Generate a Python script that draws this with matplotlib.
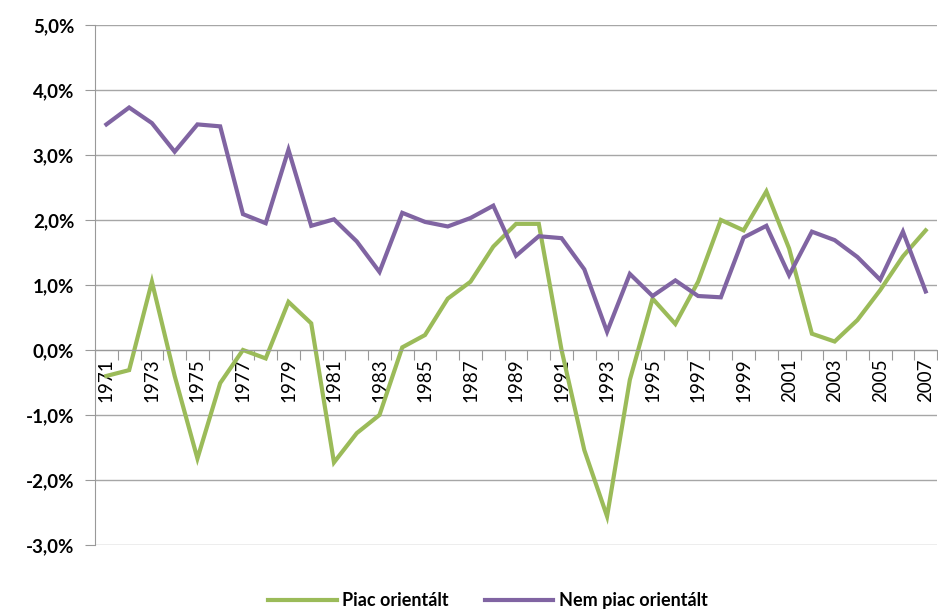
import matplotlib
matplotlib.use("Agg")
import matplotlib.pyplot as plt
from matplotlib.ticker import FuncFormatter

years = list(range(1971, 2008))
piac = [-0.40, -0.31, 1.05, -0.40, -1.67, -0.51, 0.00, -0.13, 0.74, 0.41,
        -1.73, -1.28, -1.00, 0.04, 0.23, 0.79, 1.05, 1.59, 1.94, 1.94,
        0.00, -1.54, -2.56, -0.46, 0.79, 0.40, 1.05, 2.00, 1.84, 2.44,
        1.56, 0.25, 0.13, 0.46, 0.92, 1.44, 1.84]
nem_piac = [3.47, 3.73, 3.49, 3.05, 3.47, 3.44, 2.09, 1.95, 3.08, 1.91,
            2.01, 1.67, 1.20, 2.11, 1.97, 1.90, 2.03, 2.22, 1.45, 1.75,
            1.72, 1.24, 0.28, 1.17, 0.83, 1.07, 0.83, 0.81, 1.73, 1.91,
            1.15, 1.82, 1.69, 1.43, 1.08, 1.82, 0.90]
series_names = ["Piac orientált", "Nem piac orientált"]
y_ticks = [-3, -2, -1, 0, 1, 2, 3, 4, 5]

plt.rcParams['font.family'] = ['Lato', 'DejaVu Sans']

fig = plt.figure(figsize=(9.38, 6.10), dpi=100)
ax = fig.add_axes([0.1013, 0.1066, 0.8977, 0.8525])

x = list(range(len(years)))
ax.plot(x, piac, color="#9BBB59", lw=3.0, label=series_names[0], solid_joinstyle='miter')
ax.plot(x, nem_piac, color="#8064A2", lw=3.0, label=series_names[1], solid_joinstyle='miter')

ax.set_ylim(-3, 5)
ax.set_xlim(-0.5, len(years) - 0.5)
ax.set_yticks(y_ticks)
ax.yaxis.set_major_formatter(FuncFormatter(lambda v, p: f"{v:.1f}%".replace(".", ",")))
for lbl in ax.get_yticklabels():
    lbl.set_fontweight("bold")
ax.tick_params(axis='y', labelsize=13.5, length=7, color="#999999", pad=8)
ax.grid(axis='y', color="#a6a6a6", lw=1.0)
ax.set_axisbelow(True)

for s in ['top', 'right']:
    ax.spines[s].set_visible(False)
ax.spines['left'].set_color("#999999")
ax.spines['bottom'].set_position(('data', 0))
ax.spines['bottom'].set_color("#999999")

bounds = [i - 0.5 for i in range(len(years) + 1)]
ax.set_xticks(bounds)
ax.set_xticklabels([])
ax.tick_params(axis='x', which='major', length=7, color="#999999", direction='out')
lab_pos = x[::2]
ax.set_xticks(lab_pos, [str(years[i]) for i in lab_pos], minor=True)
ax.tick_params(axis='x', which='minor', length=0, labelsize=13.5, labelrotation=90, pad=6)

fig.legend(loc='lower center', bbox_to_anchor=(0.52, -0.025), ncol=2, frameon=False,
           prop={'weight': 'bold', 'size': 13}, handlelength=3.8, handletextpad=0.3,
           columnspacing=2.0)

fig.savefig("out.png", dpi=100)
